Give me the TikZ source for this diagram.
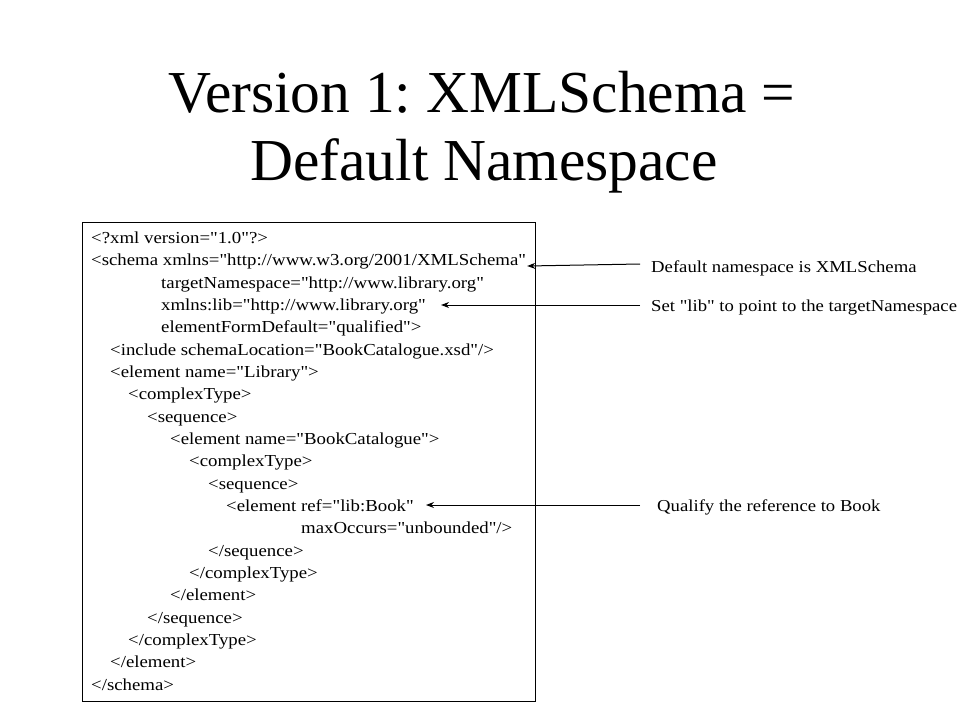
\documentclass[tikz,border=0pt]{standalone}
\usepackage{fontspec}
\setmainfont{Liberation Serif}[Ligatures=TeXOff]
\newfontfamily\slidefont{Liberation Serif}[Ligatures=TeXOff, FakeStretch=1.12]
\usetikzlibrary{arrows.meta}

\tikzset{
  titleline/.style={anchor=base, inner sep=0pt, font=\fontsize{59.5}{68}\selectfont},
  codeline/.style={anchor=base west, inner sep=0pt, font=\slidefont\fontsize{16.8}{20}\selectfont},
  noteline/.style={anchor=base west, inner sep=0pt, font=\slidefont\fontsize{16.7}{20}\selectfont},
  pointer/.style={-{Stealth[length=8pt,width=6pt]}, line width=1pt}
}

\begin{document}
\frenchspacing
\begin{tikzpicture}[x=1pt,y=-1pt]
    \useasboundingbox (0,0) rectangle (960,720);

    \node[titleline] (title1) at (482,112) {Version 1: XMLSchema =};
    \node[titleline] (title2) at (484,180) {Default Namespace};

    \draw[line width=1pt] (82,222) rectangle (535,701);

    \node[codeline] (l1)  at (91,243)  {<?xml version="1.0"?>};
    \node[codeline] (l2)  at (91,265)  {<schema xmlns="http://www.w3.org/2001/XMLSchema"};
    \node[codeline] (l3)  at (161,288) {targetNamespace="http://www.library.org"};
    \node[codeline] (l4)  at (161,310) {xmlns:lib="http://www.library.org"};
    \node[codeline] (l5)  at (161,332) {elementFormDefault="qualified">};
    \node[codeline] (l6)  at (110,355) {<include schemaLocation="BookCatalogue.xsd"/>};
    \node[codeline] (l7)  at (110,377) {<element name="Library">};
    \node[codeline] (l8)  at (128,399) {<complexType>};
    \node[codeline] (l9)  at (147,422) {<sequence>};
    \node[codeline] (l10) at (170,444) {<element name="BookCatalogue">};
    \node[codeline] (l11) at (189,466) {<complexType>};
    \node[codeline] (l12) at (208,489) {<sequence>};
    \node[codeline] (l13) at (226,511) {<element ref="lib:Book"};
    \node[codeline] (l14) at (301,533) {maxOccurs="unbounded"/>};
    \node[codeline] (l15) at (208,556) {</sequence>};
    \node[codeline] (l16) at (189,578) {</complexType>};
    \node[codeline] (l17) at (170,600) {</element>};
    \node[codeline] (l18) at (147,623) {</sequence>};
    \node[codeline] (l19) at (128,645) {</complexType>};
    \node[codeline] (l20) at (110,667) {</element>};
    \node[codeline] (l21) at (91,690)  {</schema>};

    \node[noteline] (n1) at (651,272) {Default namespace is XMLSchema};
    \node[noteline] (n2) at (651,311) {Set "lib" to point to the targetNamespace};
    \node[noteline] (n3) at (657,511) {Qualify the reference to Book};

    \coordinate (n1end) at (640,264);
    \coordinate (n2end) at (640,305);
    \coordinate (n3end) at (640,505);

    \draw[pointer] (n1end) -- ([xshift=1pt]l2.east |- 0,266);
    \draw[pointer] (n2end) -- ([xshift=15pt]l4.east |- n2end);
    \draw[pointer] (n3end) -- ([xshift=12pt]l13.east |- n3end);
\end{tikzpicture}
\end{document}
